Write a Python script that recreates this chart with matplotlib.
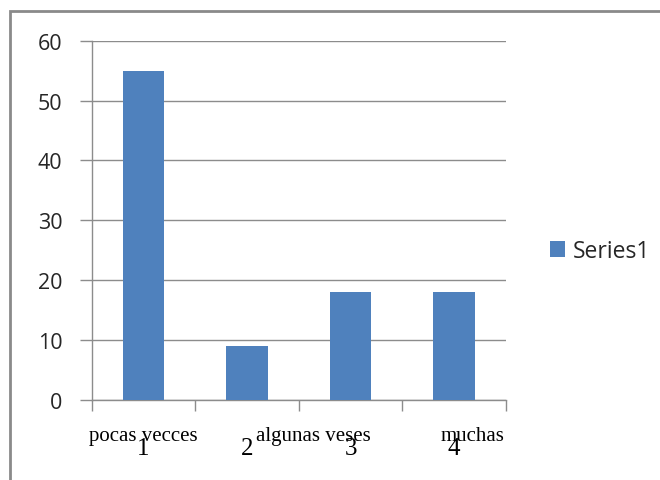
import matplotlib
matplotlib.use("Agg")
import matplotlib.pyplot as plt
from matplotlib.patches import Rectangle
import matplotlib.transforms as mtransforms

# data
categories = [1, 2, 3, 4]
values = [55, 9, 18, 18]
cat_text = ["pocas vecces", "algunas veses", "muchas"]
cat_text_x = [1.0, 2.64, 4.18]
series_name = "Series1"

bar_color = "#4F81BD"
grid_color = "#8C8C8C"

fig = plt.figure(figsize=(6.6, 4.81), dpi=100)

# outer chart frame (cut off at right and bottom like the screenshot)
fig.patches.append(Rectangle((10 / 660, -0.1), 1.2, (481 - 12) / 481 + 0.1,
                             transform=fig.transFigure, fill=False,
                             edgecolor="#8A8A8A", linewidth=2.0))

ax = fig.add_axes([91.7 / 660, 80 / 481, 414.3 / 660, 359.3 / 481])
ax.bar(categories, values, width=0.4, color=bar_color, label=series_name, zorder=3)

ax.set_xlim(0.5, 4.5)
ax.set_ylim(0, 60)
ax.set_yticks(range(0, 61, 10))
ax.yaxis.grid(True, color=grid_color, linewidth=1.0, zorder=0)

for side in ["top", "right"]:
    ax.spines[side].set_visible(False)
for side in ["left", "bottom"]:
    ax.spines[side].set_color(grid_color)
    ax.spines[side].set_linewidth(1.0)

ax.tick_params(axis="y", length=9, width=1.0, color=grid_color, pad=12,
               labelsize=15.5, labelcolor="#262626")
for lab in ax.get_yticklabels():
    lab.set_family(["Open Sans", "DejaVu Sans"])

# boundary ticks between categories, digit labels at the centres
ax.set_xticks([0.5, 1.5, 2.5, 3.5, 4.5])
ax.set_xticklabels([])
ax.tick_params(axis="x", which="major", length=8, width=1.0, color=grid_color)
ax.set_xticks(categories, minor=True)
ax.set_xticklabels([str(c) for c in categories], minor=True,
                   family="Liberation Serif", fontsize=18)
ax.tick_params(axis="x", which="minor", length=0, pad=27)

trans = mtransforms.blended_transform_factory(ax.transData, fig.transFigure)
for t, x in zip(cat_text, cat_text_x):
    ax.text(x, 1 - 437 / 481, t, transform=trans, ha="center", va="center",
            family="Liberation Serif", fontsize=15, color="black")

leg = fig.legend(loc="center left", bbox_to_anchor=(529 / 660, 1 - 252 / 481),
                 frameon=False, handlelength=0.65, handleheight=0.65,
                 handletextpad=0.35, prop={"family": "Open Sans", "size": 16.5})
for txt in leg.get_texts():
    txt.set_color("#262626")

fig.savefig("out.png", dpi=100)
